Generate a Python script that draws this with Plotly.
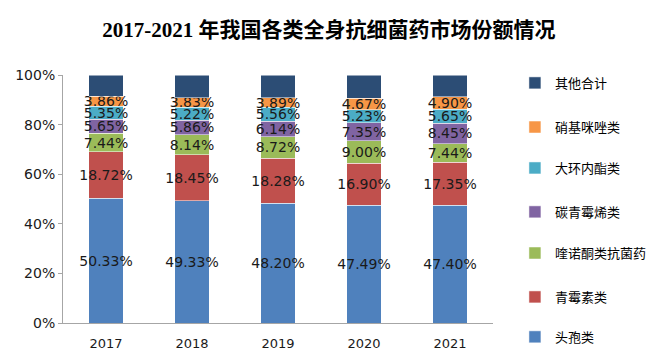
import plotly.graph_objects as go

years = ["2017", "2018", "2019", "2020", "2021"]
series_names = ["头孢类", "青霉素类", "喹诺酮类抗菌药", "碳青霉烯类", "大环内酯类", "硝基咪唑类", "其他合计"]
toubao = [50.33, 49.33, 48.20, 47.49, 47.40]
qingmeisu = [18.72, 18.45, 18.28, 16.90, 17.35]
kuinuotong = [7.44, 8.14, 8.72, 9.00, 7.44]
tanqingmeixi = [5.65, 5.86, 6.14, 7.35, 8.45]
dahuanneizhi = [5.35, 5.22, 5.56, 5.23, 5.65]
xiaojimizuo = [3.86, 3.83, 3.89, 4.67, 4.90]
qita = [8.65, 9.17, 9.21, 9.36, 8.81]
y_tick_vals = [0, 20, 40, 60, 80, 100]
y_tick_text = ["0%", "20%", "40%", "60%", "80%", "100%"]

values = [toubao, qingmeisu, kuinuotong, tanqingmeixi, dahuanneizhi, xiaojimizuo, qita]
colors = ["#4F81BD", "#C0504D", "#9BBB59", "#8064A2", "#4BACC6", "#F79646", "#2C4D75"]
show_labels = [True, True, True, True, True, True, False]
# vertical position (paper units) of each legend entry, bottom (头孢类) to top (其他合计)
legend_y = [-0.056, 0.105, 0.282, 0.448, 0.625, 0.790, 0.968]

fig = go.Figure()
legend_layouts = {}
for i, (name, vals, col, lab) in enumerate(zip(series_names, values, colors, show_labels)):
    lkey = "legend" if i == 0 else f"legend{i + 1}"
    fig.add_trace(go.Bar(
        x=years, y=vals, name=name, legend=lkey,
        marker=dict(color=col, line=dict(color="white", width=0.5)),
        text=[f"{v:.2f}%" for v in vals] if lab else None,
        textposition="inside" if lab else "none",
        insidetextanchor="middle",
        textangle=0,
        constraintext="none",
        textfont=dict(family="DejaVu Sans, Verdana, sans-serif", size=14, color="#1a1a1a"),
        cliponaxis=False,
        hoverinfo="skip",
    ))
    legend_layouts[lkey] = dict(
        x=0.051, xanchor="left", xref="paper",
        y=legend_y[i], yanchor="middle", yref="paper",
        font=dict(family="Noto Sans CJK SC, sans-serif", size=13, color="#000000"),
        itemwidth=30,
        bgcolor="rgba(0,0,0,0)",
    )

# page body has an 8px margin; layout margins compensate for it
fig.update_layout(
    barmode="stack",
    barnorm="percent",
    bargap=0.6,
    width=659, height=360,
    paper_bgcolor="white", plot_bgcolor="white",
    margin=dict(l=55, r=174, t=67, b=45, autoexpand=False),
    title=dict(
        text="<b>2017-2021 年我国各类全身抗细菌药市场份额情况</b>",
        x=0.487, xanchor="center", xref="container",
        y=0.94, yanchor="middle", yref="container",
        font=dict(family="Liberation Serif, Noto Sans CJK SC, serif", size=21, color="#000000"),
    ),
    showlegend=True,
    **legend_layouts,
)
fig.update_layout(legend=dict(x=1.051))
for k in legend_layouts:
    fig.layout[k].x = 1.051
fig.update_yaxes(
    range=[0, 100], tickvals=y_tick_vals, ticktext=y_tick_text,
    showgrid=False, showline=True, linecolor="#A6A6A6", linewidth=1,
    ticks="outside", ticklen=4, tickcolor="#A6A6A6",
    tickfont=dict(family="DejaVu Sans, Verdana, sans-serif", size=14, color="#1a1a1a"),
    zeroline=False, automargin=False,
)
fig.update_xaxes(
    showgrid=False, showline=True, linecolor="#A6A6A6", linewidth=1,
    ticks="", tickfont=dict(family="DejaVu Sans, Verdana, sans-serif", size=13, color="#1a1a1a"),
    ticklabelstandoff=8, automargin=False,
)

fig.write_html("out.html")
